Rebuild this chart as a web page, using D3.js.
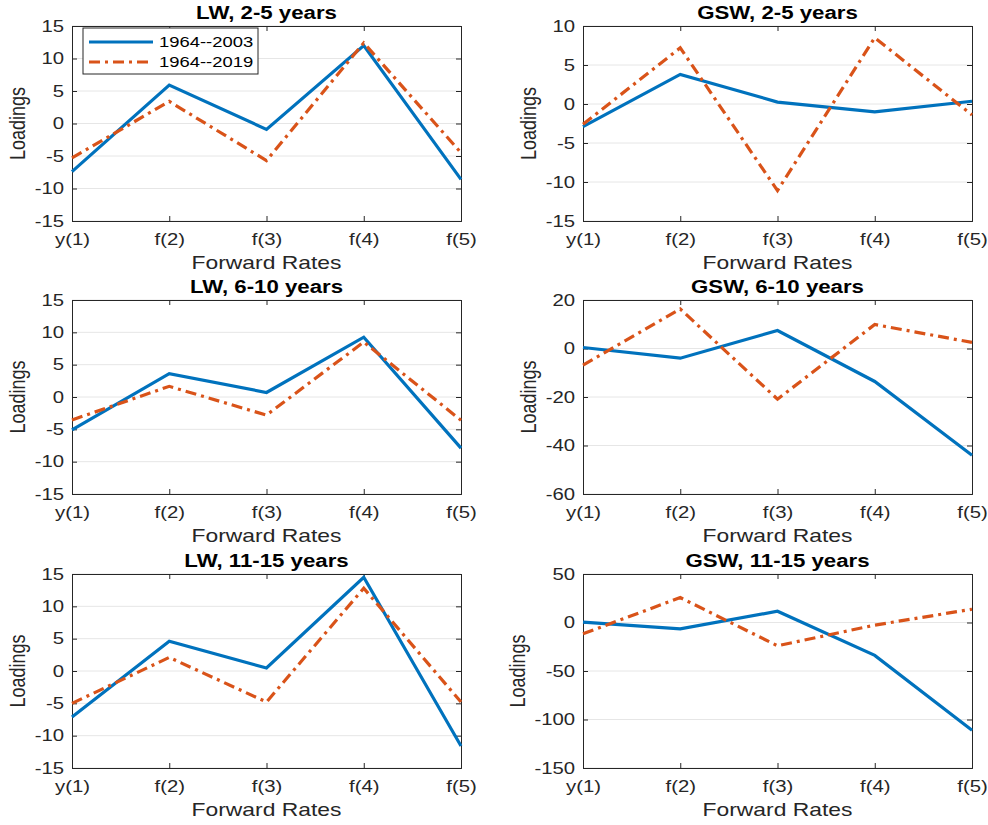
<!DOCTYPE html>
<html><head><meta charset="utf-8">
<script src="https://cdn.jsdelivr.net/npm/d3@7"></script>
<style>
body{margin:0;background:#fff;}
text{font-family:"Liberation Sans",Arial,Helvetica,sans-serif;}
</style></head>
<body><svg id="c" width="988" height="825"></svg>
<script>
const categories = ["y(1)","f(2)","f(3)","f(4)","f(5)"];
const seriesNames = ["1964--2003","1964--2019"];
const titles = ["LW, 2-5 years","GSW, 2-5 years","LW, 6-10 years","GSW, 6-10 years","LW, 11-15 years","GSW, 11-15 years"];
const yDomains = [[-15,15],[-15,10],[-15,15],[-60,20],[-15,15],[-150,50]];
const yTickStep = [5,5,5,20,5,50];
const blue1 = [-7.4, 5.9, -0.9, 12.0, -8.6];
const orange1 = [-5.3, 3.4, -5.7, 12.4, -4.5];
const blue2 = [-2.9, 3.8, 0.25, -1.0, 0.35];
const orange2 = [-2.6, 7.2, -11.1, 8.5, -1.4];
const blue3 = [-5.1, 3.6, 0.7, 9.25, -7.9];
const orange3 = [-3.55, 1.65, -2.8, 8.5, -3.6];
const blue4 = [0.4, -4.0, 7.4, -13.6, -44.0];
const orange4 = [-6.9, 16.3, -20.9, 9.9, 2.5];
const blue5 = [-7.1, 4.6, 0.46, 14.5, -11.6];
const orange5 = [-5.0, 2.1, -4.8, 12.8, -4.8];
const blue6 = [0.3, -6.5, 11.6, -33.9, -111.0];
const orange6 = [-11.6, 25.7, -24.0, -2.7, 13.7];
const blues = [blue1,blue2,blue3,blue4,blue5,blue6];
const oranges = [orange1,orange2,orange3,orange4,orange5,orange6];

const svg = d3.select("#c");
const colX = [[72,461],[583,972]];
const rowY = [[26,221],[300,494],[574,768]];
const C_BLUE = "#0072BD", C_OR = "#D95319", AX = "#262626";
const SX = 1.27; // horizontal stretch of text in reference
const DASH = "11,5,3,5";

function htext(g, x, y, str, size, anchor, weight, fill){
  return g.append("text").attr("transform",`translate(${x},${y}) scale(${SX},1)`)
    .attr("text-anchor",anchor).attr("font-size",size).attr("font-weight",weight||"normal")
    .attr("fill",fill||AX).text(str);
}

for (let p=0;p<6;p++){
  const col = p%2, row = Math.floor(p/2);
  const [x0,x1] = colX[col], [y0,y1] = rowY[row];
  const x = d3.scalePoint().domain(categories).range([x0,x1]);
  const y = d3.scaleLinear().domain(yDomains[p]).range([y1,y0]);
  const ticks = d3.range(yDomains[p][0], yDomains[p][1]+1e-9, yTickStep[p]);
  const g = svg.append("g");
  // grid
  g.selectAll(".grid").data(ticks).enter().append("line")
    .attr("x1",x0).attr("x2",x1).attr("y1",d=>y(d)).attr("y2",d=>y(d))
    .attr("stroke","#e6e6e6").attr("stroke-width",1);
  // axes
  const ax = d3.axisBottom(x).tickSize(-5).tickPadding(13);
  const gx = g.append("g").attr("transform",`translate(0,${y1})`).call(ax);
  gx.selectAll("text").attr("font-size",16).attr("fill",AX).attr("transform",`scale(${SX},1)`);
  g.append("g").attr("transform",`translate(0,${y0})`).call(d3.axisTop(x).tickSize(-5).tickFormat(""));
  const ay = d3.axisLeft(y).tickValues(ticks).tickSize(-5).tickPadding(8).tickFormat(d=>String(d));
  const gy = g.append("g").attr("transform",`translate(${x0},0)`).call(ay);
  gy.selectAll("text").attr("font-size",16).attr("fill",AX)
    .attr("x",-8/SX).attr("transform",`scale(${SX},1)`);
  g.append("g").attr("transform",`translate(${x1},0)`).call(d3.axisRight(y).tickValues(ticks).tickSize(-5).tickFormat(""));
  g.selectAll(".domain").attr("stroke",AX).attr("stroke-width",1);
  g.selectAll(".tick line").attr("stroke",AX);
  // labels
  htext(g,(x0+x1)/2,y0-7,titles[p],17.5,"middle","bold","#000");
  htext(g,(x0+x1)/2,y1+48,"Forward Rates",18,"middle");
  const lx = (p===5) ? x0-58 : x0-47;
  g.append("text").attr("transform",`translate(${lx},${(y0+y1)/2}) rotate(-90) scale(1,${SX})`)
    .attr("text-anchor","middle").attr("font-size",18).attr("fill",AX).text("Loadings");
  // lines
  const line = d3.line().x((d,i)=>x(categories[i])).y(d=>y(d));
  g.append("path").datum(blues[p]).attr("d",line).attr("fill","none")
    .attr("stroke",C_BLUE).attr("stroke-width",3.2);
  g.append("path").datum(oranges[p]).attr("d",line).attr("fill","none")
    .attr("stroke",C_OR).attr("stroke-width",3.2).attr("stroke-dasharray",DASH);
  if (p===0){
    const lg = g.append("g");
    lg.append("rect").attr("x",83).attr("y",28).attr("width",175).attr("height",46)
      .attr("fill","#fff").attr("stroke",AX).attr("stroke-width",1);
    [C_BLUE,C_OR].forEach((c,i)=>{
      const yy = 42 + i*20;
      lg.append("line").attr("x1",89).attr("x2",153).attr("y1",yy).attr("y2",yy)
        .attr("stroke",c).attr("stroke-width",3.2)
        .attr("stroke-dasharray", i===1 ? DASH : null);
      htext(lg,159,yy+5,seriesNames[i],14.5,"start","normal","#000");
    });
  }
}
</script></body></html>
